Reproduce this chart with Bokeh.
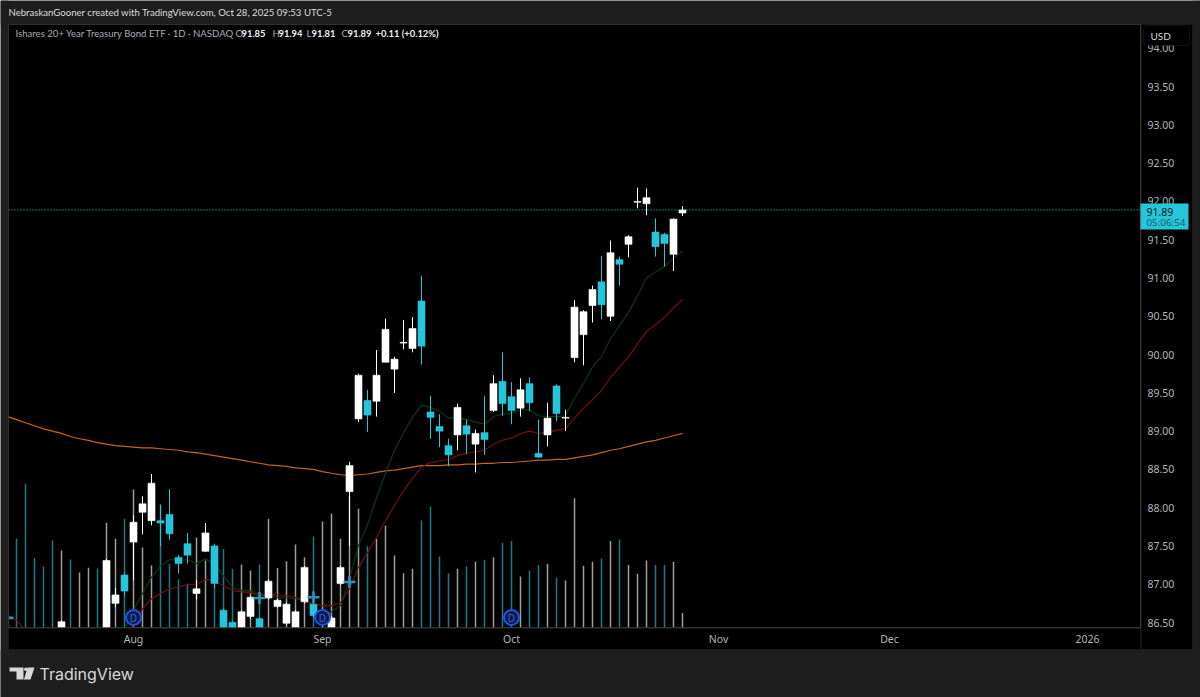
from math import nan
from bokeh.plotting import figure
from bokeh.layouts import column
from bokeh.embed import file_html
from bokeh.resources import INLINE
from bokeh.core.properties import value
from bokeh.models import (Range1d, FixedTicker, NumeralTickFormatter, Label, BoxAnnotation,
                          PolyAnnotation, Span, ColumnDataSource)

# ---------------- data ----------------
first_bar = -14
tick_bars = [0, 21, 42, 65, 84, 106]
tick_names = ["Aug", "Sep", "Oct", "Nov", "Dec", "2026"]
price_ticks = [86.5, 87.0, 87.5, 88.0, 88.5, 89.0, 89.5, 90.0, 90.5, 91.0, 91.5, 92.0, 92.5, 93.0, 93.5, 94.0]
last_price = 91.89

opens = [nan, nan, nan, nan, nan, nan, 86.40, nan, nan, nan, nan, 86.40, 86.75, 87.12,
         87.55, 87.94, 87.83, 87.83, 87.91, 87.35, 87.53, 86.88, 87.43, 87.50, 86.66, 86.50, 86.35, 86.58,
         86.55, 86.82, 86.71, 86.49, 86.35, 86.77, 86.74, 86.53, 86.35, 87.01, 88.21, 89.16, 89.40, 89.39,
         89.90, 89.81, 90.15, 90.08, 90.70, 89.25, 89.06, 88.81, 88.95, 89.07, 88.83, 88.98, 89.27, 89.65,
         89.45, 89.30, 89.62, 88.71, 88.95, 89.59, 89.17, 89.96, 90.26, 90.64, 90.95, 90.50, 91.24, 91.44,
         91.99, 91.97, 91.60, 91.57, 91.31, 91.85]
highs = [nan, nan, nan, nan, nan, nan, 86.53, nan, nan, nan, nan, 87.33, 86.95, 87.15,
         87.90, 88.15, 88.44, 88.04, 88.24, 87.38, 87.67, 87.05, 87.80, 87.53, 86.68, 86.52, 86.66, 86.85,
         86.57, 87.06, 86.81, 86.76, 86.66, 87.24, 86.76, 86.65, 86.58, 87.24, 88.60, 89.75, 89.54, 90.06,
         90.47, 89.97, 90.45, 90.49, 91.03, 89.46, 89.22, 88.90, 89.36, 89.15, 89.02, 89.46, 89.73, 90.03,
         89.64, 89.69, 89.70, 89.15, 89.37, 89.61, 89.28, 90.71, 90.58, 90.90, 91.29, 91.49, 91.28, 91.56,
         92.18, 92.17, 91.78, 91.59, 91.78, 91.94]
lows = [nan, nan, nan, nan, nan, nan, 86.30, nan, nan, nan, nan, 86.30, 86.70, 86.85,
        87.05, 87.65, 87.77, 87.50, 87.58, 87.14, 87.27, 86.80, 87.42, 86.95, 86.30, 86.30, 86.30, 86.55,
        86.30, 86.80, 86.69, 86.47, 86.30, 86.75, 86.57, 86.50, 86.30, 86.99, 87.50, 89.12, 88.99, 89.19,
        89.90, 89.50, 90.07, 90.03, 89.87, 88.90, 88.79, 88.54, 88.75, 88.70, 88.46, 88.69, 89.25, 89.20,
        89.09, 89.19, 89.26, 88.65, 88.80, 89.13, 89.00, 89.90, 89.86, 90.42, 90.46, 90.44, 90.90, 91.27,
        91.91, 91.82, 91.28, 91.15, 91.09, 91.81]
closes = [nan, nan, nan, nan, nan, nan, 86.51, nan, nan, nan, nan, 87.31, 86.86, 86.91,
          87.81, 88.05, 88.32, 87.80, 87.66, 87.27, 87.38, 86.94, 87.67, 87.01, 86.35, 86.35, 86.64, 86.83,
          86.35, 87.04, 86.79, 86.74, 86.64, 87.22, 86.59, 86.62, 86.56, 87.22, 88.55, 89.73, 89.21, 89.73,
          90.33, 89.94, 90.16, 90.34, 90.11, 89.18, 89.00, 88.69, 89.31, 88.96, 88.97, 88.89, 89.62, 89.36,
          89.27, 89.54, 89.37, 88.66, 89.17, 89.23, 89.18, 90.62, 90.56, 90.85, 90.65, 91.33, 91.18, 91.54,
          92.00, 92.05, 91.41, 91.45, 91.77, 91.89]
volumes = [nan, 29.6, 47.9, 23.2, 20.3, 29.0, 25.7, 22.7, 18.3, 19.9, 19.7, 34.9, 29.6, 36.2,
           46.0, 26.7, 20.7, 41.0, 21.2, 16.0, 14.6, 29.9, 22.3, 14.0, 26.2, 19.6, 21.0, 19.0,
           21.0, 36.2, 19.8, 22.1, 27.7, 23.4, 30.3, 35.3, 38.0, 29.6, 44.0, 39.6, 27.1, 29.6,
           34.0, 24.0, 18.1, 19.6, 35.7, 40.3, 23.7, 18.1, 19.6, 20.4, 21.9, 22.6, 23.4, 28.2,
           28.8, 17.0, 19.0, 20.8, 21.2, 16.6, 15.7, 43.1, 20.6, 21.9, 23.0, 28.8, 29.3, 20.8,
           17.9, 22.3, 20.8, 20.8, 21.9, 4.8]
down_volume_bars = [-13, -12, -11, -10, -9, -7, -4, -1, 3, 4, 5, 6, 9, 10, 11, 14, 20, 26, 32, 33, 34, 35,
                    37, 39, 41, 42, 44, 45, 47, 52, 54, 58, 59]
ma_fast = [86.50, 86.33, nan, nan, nan, nan, nan, nan, nan, nan, nan, nan, nan, 86.40,
           86.66, 86.88, 87.09, 87.24, 87.32, 87.32, 87.32, 87.27, 87.33, 87.26, 87.11, 86.96, 86.92, 86.91,
           86.87, 86.86, 86.83, 86.82, 86.81, 86.79, 86.70, 86.59, 86.64, 86.72, 87.07, 87.51, 87.77, 88.13,
           88.45, 88.75, 88.98, 89.18, 89.34, 89.31, 89.26, 89.17, 89.18, 89.15, 89.12, 89.09, 89.19, 89.22,
           89.23, 89.28, 89.28, 89.20, 89.19, 89.19, 89.20, 89.43, 89.62, 89.84, 89.97, 90.21, 90.38, 90.55,
           90.77, 91.00, 91.08, 91.15, 91.26, 91.35]
ma_mid = [86.59, 86.53, 86.40, nan, nan, nan, nan, nan, nan, nan, nan, nan, nan, 86.37,
          86.46, 86.68, 86.81, 86.88, 86.94, 86.96, 87.00, 87.00, 87.06, 87.05, 86.98, 86.92, 86.90, 86.89,
          86.85, 86.87, 86.86, 86.85, 86.83, 86.79, 86.74, 86.72, 86.72, 86.76, 86.94, 87.22, 87.41, 87.61,
          87.83, 88.03, 88.22, 88.38, 88.53, 88.59, 88.61, 88.63, 88.68, 88.71, 88.73, 88.75, 88.83, 88.88,
          88.91, 88.97, 89.00, 88.97, 88.98, 89.01, 89.03, 89.17, 89.30, 89.41, 89.53, 89.70, 89.84, 89.97,
          90.14, 90.30, 90.39, 90.49, 90.61, 90.72]
ma_slow = [89.19, 89.15, 89.11, 89.07, 89.03, 89.00, 88.97, 88.93, 88.90, 88.88, 88.85, 88.83, 88.81, 88.80,
           88.79, 88.78, 88.78, 88.77, 88.76, 88.75, 88.73, 88.72, 88.70, 88.68, 88.66, 88.64, 88.62, 88.60,
           88.58, 88.56, 88.55, 88.54, 88.52, 88.51, 88.50, 88.47, 88.45, 88.43, 88.42, 88.43, 88.44, 88.46,
           88.48, 88.49, 88.51, 88.53, 88.55, 88.55, 88.55, 88.56, 88.56, 88.57, 88.57, 88.58, 88.58, 88.59,
           88.59, 88.60, 88.61, 88.62, 88.62, 88.63, 88.63, 88.65, 88.67, 88.69, 88.72, 88.75, 88.77, 88.80,
           88.83, 88.86, 88.88, 88.91, 88.94, 88.97]
signal_bars = [-14, 14, 20, 24]
signal_prices = [86.56, 86.82, 86.83, 87.03]
dividend_bars = [0, 21, 42]
dividend_price = 86.565

# ---------------- layout helpers (reference pixels -> data) ----------------
BG, UP, GREY = "#1e1e1e", "#26c6da", "#b2b5be"
def X(px): return (px - 133) / 9.0
def Y(py): return 86.5 + (622 - py) / 76.55

p = figure(width=1200, height=697, output_backend="svg", toolbar_location=None,
           x_range=Range1d(X(8), X(1140)), y_range=Range1d(Y(627), Y(24)),
           y_axis_location="right", min_border_left=8, min_border_right=60,
           min_border_top=24, min_border_bottom=70, frame_align=False,
           background_fill_color="#000000", border_fill_color="#000000", outline_line_color=None)
p.grid.visible = False
p.extra_y_ranges = {"vol": Range1d(0, 201)}

p.yaxis.ticker = FixedTicker(ticks=price_ticks)
p.yaxis.formatter = NumeralTickFormatter(format="0.00")
p.xaxis.ticker = FixedTicker(ticks=tick_bars)
p.xaxis.major_label_overrides = dict(zip(tick_bars, tick_names))
for ax, standoff in ((p.yaxis, 7), (p.xaxis, 4)):
    ax.axis_line_color = None
    ax.major_tick_line_color = None
    ax.major_tick_out = 0
    ax.minor_tick_line_color = None
    ax.major_label_text_color = GREY
    ax.major_label_text_font = "Noto Sans"
    ax.major_label_text_font_size = "10.5px"
    ax.major_label_standoff = standoff

bars = list(range(first_bar, first_bar + len(closes)))
colors = ["#ffffff" if c != c or c >= o else UP for o, c in zip(opens, closes)]
vol_colors = [UP if b in down_volume_bars else "#ffffff" for b in bars]
src = ColumnDataSource(dict(x=bars, o=opens, h=highs, l=lows, c=closes, v=volumes, color=colors, vcolor=vol_colors,
                            top=[max(a, b) for a, b in zip(opens, closes)],
                            bot=[min(a, b) for a, b in zip(opens, closes)],
                            zero=[0] * len(bars)))

p.segment("x", "zero", "x", "v", source=src, y_range_name="vol", line_color="vcolor", line_alpha=0.62, line_width=1.5)
p.line(bars, ma_slow, line_color="#c8641e", line_width=1.2)
p.line(bars, ma_mid, line_color="#7a0f0f", line_width=1.1)
p.line(bars, ma_fast, line_color="#0d3d10", line_width=1.1)
p.segment("x", "h", "x", "l", source=src, line_color="color", line_width=1)
p.vbar("x", top="top", bottom="bot", width=0.78, source=src, fill_color="color", line_color="color", line_width=0.6)
p.scatter(signal_bars, signal_prices, marker="cross", size=12, line_color="#2f93b8", line_width=2.6)
p.add_layout(Span(location=last_price, dimension="width", line_color=UP, line_alpha=1, line_width=1, line_dash="1 2"))
p.scatter(dividend_bars, [dividend_price] * 3, marker="circle", size=15, fill_color="#0e1c44", line_color="#1e53e5", line_width=2)
p.text(dividend_bars, [dividend_price] * 3, text=["D"] * 3, text_color="#2f62e8", text_font=value("Noto Sans"),
       text_font_size="10px", text_align="center", text_baseline="middle")

# ---------------- page furniture: a transparent sheet whose frame is the whole page ----------------
sheet = figure(width=1200, height=697, output_backend="svg", toolbar_location=None,
               x_range=Range1d(0, 1200), y_range=Range1d(697, 0), x_axis_type=None, y_axis_type=None,
               min_border=0, background_fill_alpha=0, border_fill_alpha=0, outline_line_color=None,
               frame_align=False, margin=(-697, 0, 0, 0))
sheet.grid.visible = False
p.margin = (0, 0, 0, 0)

def box(l, r, t, b, **kw):
    kw.setdefault("fill_alpha", 1)
    kw.setdefault("line_color", None)
    sheet.add_layout(BoxAnnotation(left=l, right=r, top=t, bottom=b, **kw))

def lab(px, py, text, color=GREY, size="10.5px", style="normal", font="Lato"):
    sheet.add_layout(Label(x=px, y=py, text=text, text_color=color, text_font=font, text_font_size=size,
                           text_font_style=style, text_baseline="middle", text_align="left"))

# bands round the pane, and its separators
for l, r, t, b in ((0, 1200, 0, 24), (0, 1200, 649, 697), (0, 8, 0, 697), (1192, 1200, 0, 697)):
    box(l, r, t, b, fill_color=BG)
box(8, 1192, 24, 649, fill_alpha=0, line_color="#333333", line_width=1)
box(1140, 1141, 24, 649, fill_color="#2a2a2a")
box(8, 1140, 627, 628, fill_color="#2a2a2a")

# header and legend
lab(8, 12, "NebraskanGooner created with TradingView.com, Oct 28, 2025 09:53 UTC-5", "#dcdcdc", "9.6px")
lab(15, 33, "Ishares 20+ Year Treasury Bond ETF · 1D · NASDAQ", "#a9adb6", "9.6px")
for px, t in ((235, "O"), (272, "H"), (306, "L"), (341, "C")):
    lab(px, 33, t, "#a9adb6", "9.6px")
for px, t in ((241, "91.85"), (278, "91.94"), (311, "91.81"), (347, "91.89"), (375, "+0.11 (+0.12%)")):
    lab(px, 33, t, "#f0f0f0", "9.4px", "bold")

# USD button
box(1143, 1189, 25, 45, fill_color="#000000", line_color="#3a3a3a", line_width=1, border_radius=4)
lab(1150, 35, "USD", "#d6d6d6", "10px")
# last price tag
box(1140, 1188, 203, 229, fill_color=UP)
lab(1146, 211, f"{last_price:.2f}", "#07161b", "10.5px", font="Noto Sans")
lab(1146, 222, "05:06:54", "#0c5f6d", "9.8px", font="Noto Sans")

# logo
lab(39, 673, "TradingView", "#d8d8d8", "16px", "normal", "Inter")
for xs, ys in (([9, 23, 23, 16, 16, 9], [667, 667, 679, 679, 671, 671]),
               ([27, 34, 30, 23.5], [667, 667, 679, 679])):
    sheet.add_layout(PolyAnnotation(xs=xs, ys=ys, fill_color="#d8d8d8", fill_alpha=1, line_color=None))
box(23.5, 27, 667, 670.5, fill_color="#d8d8d8", border_radius=2)

page = column(p, sheet, spacing=0)
open("out.html", "w").write(file_html(page, INLINE))
